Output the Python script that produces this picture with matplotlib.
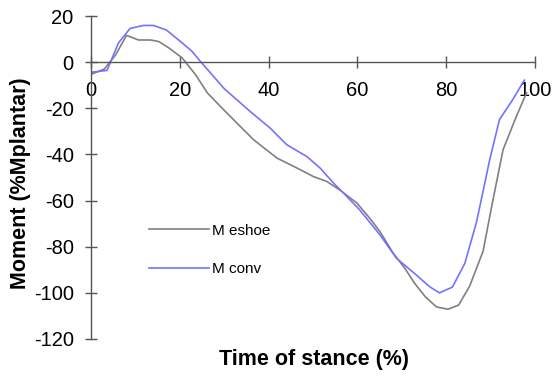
import matplotlib
matplotlib.use('Agg')
import matplotlib.pyplot as plt

plt.rcParams['font.family'] = ['Liberation Sans', 'DejaVu Sans']
plt.rcParams['axes.unicode_minus'] = False

# M eshoe
x_eshoe = [0, 3, 5.5, 8, 10.7, 13.4, 15.3, 17.5, 20.5, 23.5, 26.2, 29.1, 32.8, 36.6,
           41.9, 46.4, 50.1, 53.1, 56.1, 59.9, 62.8, 65.1, 68.1, 70.7, 72.9, 75.3,
           77.8, 80.4, 82.8, 85.3, 88.3, 90.4, 92.8, 95.8, 98.1]
y_eshoe = [-5.3, -3, 3, 11.6, 9.6, 9.6, 8.9, 6.2, 1.9, -5.3, -13.3, -19.1, -26.3, -33.6,
           -41.6, -45.9, -49.6, -51.7, -55.5, -61.1, -67.7, -73.5, -82.9, -89.4, -95.9, -101.7,
           -106.1, -107.1, -105.3, -97, -82, -61, -38, -23.5, -13.3]

# M conv
x_conv = [0, 3.6, 6.2, 8.8, 11.8, 14.1, 17.0, 20.5, 22.7, 24.6, 27.2, 30, 35.8, 40.3,
          44.1, 48.6, 51.6, 54.6, 56.9, 60.5, 65.1, 68.8, 73.3, 76.3, 78.5, 81.4,
          84.2, 86.8, 88.3, 89.8, 92.0, 95.0, 97.6]
y_conv = [-4.4, -3.6, 8.4, 14.6, 15.9, 15.9, 13.9, 8.4, 4.8, 0.4, -5.3, -11.5, -21.3, -28.5,
          -35.8, -40.9, -45.9, -52.4, -56.8, -64, -74.9, -85, -92.3, -97.4, -100, -97.5,
          -87.2, -69.5, -56, -42.3, -24.9, -16.2, -7.8]

xticks = [0, 20, 40, 60, 80, 100]
yticks = [20, 0, -20, -40, -60, -80, -100, -120]

fig = plt.figure(figsize=(5.59, 3.78), dpi=100)
ax = fig.add_axes([91 / 559, 1 - 339 / 378, 444 / 559, 323 / 378])

ax.plot(x_eshoe, y_eshoe, color='#808080', lw=1.2, label='M eshoe')
ax.plot(x_conv, y_conv, color='#7373ff', lw=1.2, label='M conv')

ax.set_xlim(0, 100)
ax.set_ylim(-120, 20)
ax.set_xticks(xticks)
ax.set_yticks(yticks)

ax.spines['top'].set_visible(False)
ax.spines['right'].set_visible(False)
ax.spines['bottom'].set_position(('data', 0))
for s in ['left', 'bottom']:
    ax.spines[s].set_color('#555555')
    ax.spines[s].set_linewidth(1.0)
ax.tick_params(direction='inout', length=9, width=1.0, color='#555555',
               labelsize=14.5)
ax.tick_params(axis='y', pad=8)
ax.tick_params(axis='x', pad=9)

ax.set_xlabel('Time of stance (%)', fontsize=15.5, fontweight='bold')
ax.set_ylabel('Moment (%Mplantar)', fontsize=15.5, fontweight='bold')
ax.xaxis.set_label_coords(0.502, -0.03)
ax.yaxis.set_label_coords(-0.135, 0.481)

ax.legend(loc='upper left', bbox_to_anchor=(0.1, 0.40), frameon=False,
          fontsize=11, handlelength=3.9, handletextpad=0.2, labelspacing=1.6)

fig.savefig('out.png', dpi=100)
